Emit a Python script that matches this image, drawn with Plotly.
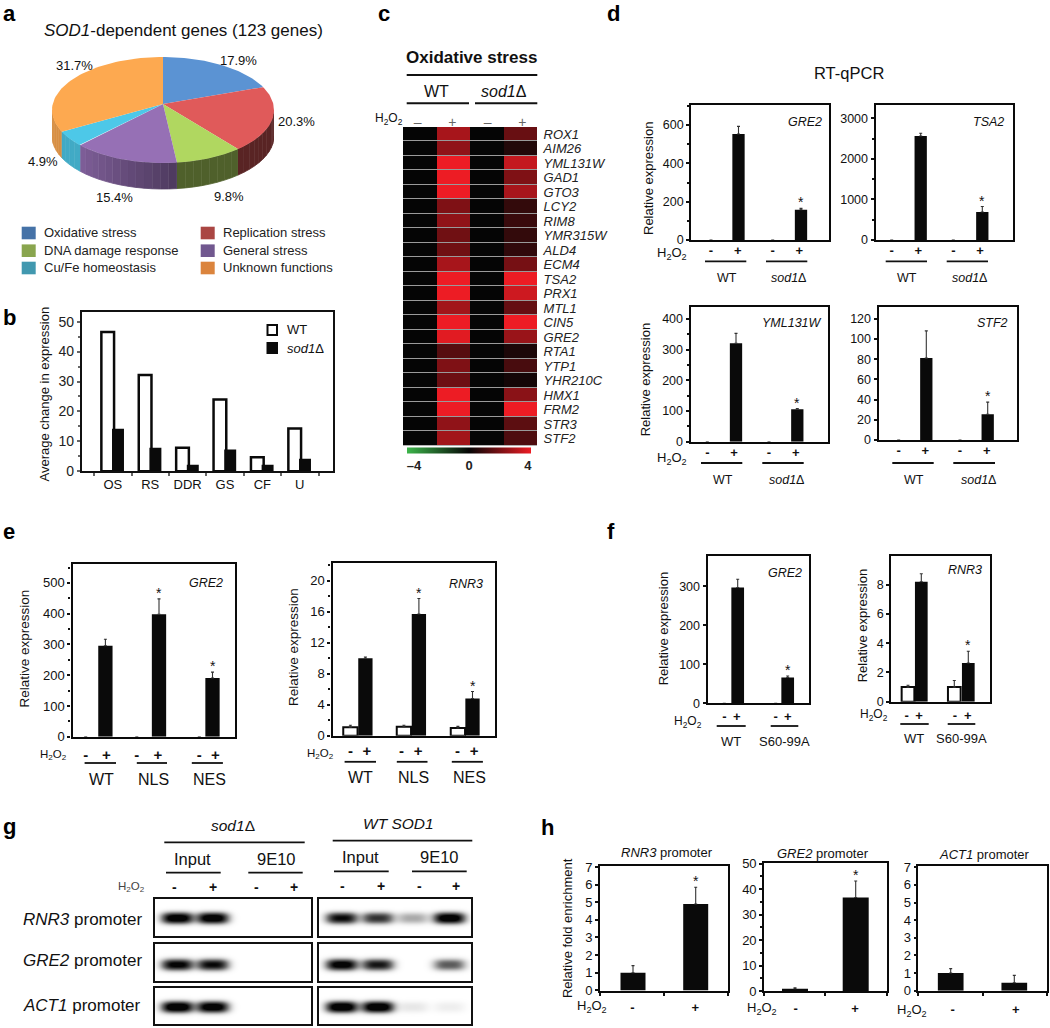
import numpy as np
import plotly.graph_objects as go

W, H = 1050, 1028
FONT = "Liberation Sans"

# ---------- data ----------
pie_names = ["Oxidative stress", "Replication stress", "DNA damage response",
             "General stress", "Cu/Fe homeostasis", "Unknown functions"]
pie_pct = [17.9, 20.3, 9.8, 15.4, 4.9, 31.7]

b_cats = ["OS", "RS", "DDR", "GS", "CF", "U"]
b_wt = [46.5, 32.2, 7.9, 24.0, 4.7, 14.3]
b_sod1 = [14.2, 7.9, 2.2, 7.3, 2.2, 4.2]

heat_genes = ["ROX1", "AIM26", "YML131W", "GAD1", "GTO3", "LCY2", "RIM8", "YMR315W", "ALD4", "ECM4", "TSA2",
              "PRX1", "MTL1", "CIN5", "GRE2", "RTA1", "YTP1", "YHR210C", "HMX1", "FRM2", "STR3", "STF2"]
heat_wt_minus = [0] * 22
heat_wt_plus = [2.8, 2.4, 4, 4, 4, 2.1, 2.4, 1.85, 1.85, 2.8, 4, 4, 2.7, 4, 3.8, 1.4, 2.1, 1.8, 4, 4, 2.4, 2.7]
heat_sod_minus = [0] * 22
heat_sod_plus = [1.7, 0.5, 3.3, 2.1, 2.8, 0.8, 0.9, 0.8, 0.75, 1.95, 4, 3.45, 1.65, 4, 2.55, 0.4, 1.15, 0.25, 2.3, 4, 1.5, 1.25]

d_gre2 = [0, 553, 0, 158]
d_gre2_err = [0, 40, 0, 7]
d_tsa2 = [0, 2565, 0, 690]
d_tsa2_err = [0, 65, 0, 135]
d_yml = [0, 321, 0, 106]
d_yml_err = [0, 32, 0, 2]
d_stf2 = [0, 81, 0, 25.5]
d_stf2_err = [0, 27, 0, 12]

e_gre2 = [0, 296, 0, 398, 0, 191]
e_gre2_err = [0, 21, 0, 50, 0, 19]
e_rnr3 = [1.1, 10.0, 1.15, 15.7, 1.0, 4.8]
e_rnr3_err = [0.25, 0.15, 0.2, 2.0, 0.2, 0.9]

f_gre2 = [0, 297, 0, 66]
f_gre2_err = [0, 21, 0, 4]
f_rnr3 = [1.0, 8.2, 1.0, 2.65]
f_rnr3_err = [0.12, 0.55, 0.45, 0.8]

h_rnr3 = [1.0, 4.9]
h_rnr3_err = [0.4, 0.95]
h_gre2 = [0.9, 36.7]
h_gre2_err = [0.4, 6.5]
h_act1 = [1.0, 0.45]
h_act1_err = [0.25, 0.42]

# band intensities per blot, lanes: Input -, Input +, 9E10 -, 9E10 +
g_rnr3_sod1 = [0.95, 0.95, 0, 0]
g_rnr3_wt = [0.8, 0.65, 0.25, 0.95]
g_gre2_sod1 = [0.85, 0.8, 0, 0]
g_gre2_wt = [0.9, 0.75, 0, 0.5]
g_act1_sod1 = [1.0, 0.95, 0, 0]
g_act1_wt = [1.0, 1.0, 0.07, 0.05]

# ---------- helpers ----------
fig = go.Figure()
layout = {}
ann, shapes = [], []
axis_n = 0


def fx(x): return x / W
def fy(y): return 1 - y / H


def new_axes(L, R, T, B, xa, ya):
    global axis_n
    axis_n += 1
    s = "" if axis_n == 1 else str(axis_n)
    xa = dict(xa, domain=[fx(L), fx(R)], anchor="y" + s)
    ya = dict(ya, domain=[fy(B), fy(T)], anchor="x" + s)
    layout["xaxis" + s] = xa
    layout["yaxis" + s] = ya
    return "x" + s, "y" + s


def txt(x, y, text, size=13, anchor="center", angle=0, color="#111", bold=False, italic=False):
    if italic:
        text = "<i>" + text + "</i>"
    if bold:
        text = "<b>" + text + "</b>"
    ann.append(dict(x=fx(x), y=fy(y), xref="paper", yref="paper", text=text, showarrow=False,
                    xanchor=anchor, yanchor="middle", textangle=angle, borderpad=0, borderwidth=0,
                    font=dict(family=FONT, size=size, color=color)))


def hline(x0, x1, y, w=1.8, color="#111"):
    shapes.append(dict(type="line", xref="paper", yref="paper", x0=fx(x0), x1=fx(x1), y0=fy(y), y1=fy(y),
                       line=dict(color=color, width=w)))


def rect(x0, x1, y0, y1, color, layer="above"):
    shapes.append(dict(type="rect", xref="paper", yref="paper", x0=fx(x0), x1=fx(x1), y0=fy(y0), y1=fy(y1),
                       line=dict(width=0), fillcolor=color, layer=layer))


H2O2 = "H<sub>2</sub>O<sub>2</sub>"
INK = "#0a0a0a"


def bar_panel(vals, errs, signs, open_bars, stars, frame, zero_px, tick_val, tick_px, bar_px, label_px, bw,
              dtick, minor=None, tick_size=12.5, label_size=13, label_gap=0, label_shift=-3, line_w=2.4, x_minor=None):
    L, R, T, B = frame
    ppu = (zero_px - tick_px) / tick_val
    ymin, ymax = (zero_px - B) / ppu, (zero_px - T) / ppu
    xs = [(c - L) / (R - L) for c in bar_px]
    ticks = [(c - L) / (R - L) for c in label_px]
    xa = dict(range=[0, 1], tickmode="array", tickvals=ticks, ticktext=["<b>%s</b>" % s for s in signs], tickangle=0,
              ticks="outside", ticklen=label_gap, tickcolor="rgba(0,0,0,0)", ticklabelstandoff=label_shift,
              showgrid=False, zeroline=False, showline=True, mirror=True, linecolor=INK, linewidth=line_w,
              tickfont=dict(family=FONT, size=label_size, color="#111"))
    if x_minor is not None:
        xa["minor"] = dict(tickmode="array", tickvals=[(c - L) / (R - L) for c in x_minor], ticks="outside",
                           ticklen=3, tickcolor="#111", tickwidth=1.5)
    ya = dict(range=[ymin, ymax], tick0=0, dtick=dtick, ticks="outside", ticklen=3, tickwidth=1.5, tickcolor="#111",
              showgrid=False, zeroline=False, showline=True, mirror=True, linecolor=INK, linewidth=line_w,
              tickfont=dict(family=FONT, size=tick_size, color="#111"))
    if minor:
        ya["minor"] = dict(dtick=minor, tick0=0, ticks="outside", ticklen=2, tickwidth=1.5, tickcolor="#111")
    xr, yr = new_axes(L, R, T, B, xa, ya)
    fig.add_trace(go.Bar(
        x=xs, y=vals, width=bw / (R - L), xaxis=xr, yaxis=yr, showlegend=False,
        marker=dict(color=["#fff" if o else INK for o in open_bars],
                    line=dict(color=INK, width=[2 if o else 0 for o in open_bars])),
        error_y=dict(type="data", symmetric=False, array=[e if e else None for e in errs], arrayminus=[0] * len(errs),
                     color="#333", thickness=1.1, width=1.5)))
    for i, st in enumerate(stars):
        if st:
            ann.append(dict(x=xs[i], y=vals[i] + errs[i], xref=xr, yref=yr, text="*", showarrow=False, xanchor="center",
                            yanchor="bottom", yshift=-4, font=dict(family=FONT, size=14, color="#111")))


def blot(lanes, frame, lane_px, band_y):
    L, R, T, B = frame
    gx = np.arange(L, R + 1, 1.0)
    gy = np.arange(T, B + 1, 1.0)
    X, Y = np.meshgrid(gx, gy)
    Z = np.zeros_like(X)
    for a, c in zip(lanes, lane_px):
        Z += a * np.exp(-(np.abs(X - c) / 15.5) ** 3.2) * np.exp(-(np.abs(Y - band_y) / 5.5) ** 2.4)
    Z = np.clip(Z * 1.25, 0, 1)
    ax = dict(showticklabels=False, ticks="", showgrid=False, zeroline=False, showline=True, mirror=True,
              linecolor="#111", linewidth=2)
    xr, yr = new_axes(L, R, T, B, dict(ax, range=[L, R]), dict(ax, range=[B, T]))
    fig.add_trace(go.Heatmap(x=gx, y=gy, z=Z, xaxis=xr, yaxis=yr, zmin=0, zmax=1, showscale=False, hoverinfo="skip",
                             colorscale=[[0, "#ffffff"], [0.5, "#777777"], [1, "#050505"]]))


# ---------- panel a: extruded pie, every wedge derived from pie_pct ----------
CX, RX, CY, RY, AP, DEPTH = 163, 111, 110, 53, 6, 26
tops = ["#5b93d3", "#e05a5a", "#b0d760", "#9670b5", "#4dc8e8", "#fda950"]
swatch = ["#4572a7", "#aa4643", "#89a54e", "#71588f", "#4198af", "#db843d"]
shade = [(0.4, 0.4), (0.4, 0.4), (0.45, 0.45), (0.52, 0.85), (0.85, 0.85), (0.85, 0.85)]
pL, pR, pT, pB = CX - RX, CX + RX, 40, 205
xa = dict(visible=False, range=[-1, 1])
ya = dict(visible=False, range=[(CY - pB) / RY, (CY - pT) / RY])
xp, yp = new_axes(pL, pR, pT, pB, xa, ya)
edges = np.concatenate([[0], np.cumsum(pie_pct)]) / sum(pie_pct) * 2 * np.pi


def hex2rgb(c): return [int(c[i:i + 2], 16) for i in (1, 3, 5)]


d = DEPTH / RY
for i in range(len(pie_pct)):
    a0, a1 = max(edges[i], np.pi / 2), min(edges[i + 1], 1.5 * np.pi)
    if a1 <= a0:
        continue
    n = max(2, int(np.degrees(a1 - a0) / 4))
    steps = np.linspace(a0, a1, n + 1)
    for j in range(n):
        t = (j + 0.5) / n
        s = shade[i][0] + (shade[i][1] - shade[i][0]) * t
        col = "rgb(%d,%d,%d)" % tuple(int(v * s) for v in hex2rgb(tops[i]))
        aa = np.linspace(steps[j], steps[j + 1], 4)
        xs = np.concatenate([np.sin(aa), np.sin(aa[::-1])])
        ys = np.concatenate([np.cos(aa), np.cos(aa[::-1]) - d])
        fig.add_trace(go.Scatter(x=xs, y=ys, xaxis=xp, yaxis=yp, mode="lines", fill="toself", line=dict(width=0.8, color=col),
                                 fillcolor=col, showlegend=False, hoverinfo="skip"))
for i in range(len(pie_pct)):
    aa = np.linspace(edges[i], edges[i + 1], 60)
    xs = np.concatenate([[0], np.sin(aa), [0]])
    ys = np.concatenate([[AP / RY], np.cos(aa), [AP / RY]])
    fig.add_trace(go.Scatter(x=xs, y=ys, xaxis=xp, yaxis=yp, mode="lines", fill="toself", line=dict(width=0),
                             fillcolor=tops[i], name=pie_names[i], showlegend=False))

txt(183.3, 30.7, "<i>SOD1</i>-dependent genes (123 genes)", 17)
pie_lab = [(238, 60), (296, 121), (229, 196), (114.7, 198), (42.7, 161), (74, 65.7)]
for (x, y), v in zip(pie_lab, pie_pct):
    txt(x, y, "%.1f%%" % v, 13)
leg_pos = [(21.7, 233), (200.7, 233), (21.7, 250.7), (200.7, 250.7), (21.7, 268), (200.7, 268)]
for (x, y), nm, c in zip(leg_pos, pie_names, swatch):
    rect(x, x + 14, y - 6.3, y + 6.3, c)
    txt(x + 22.3, y, nm, 13, anchor="left", color="#222")

# ---------- panel b ----------
bL, bR, bT, bB = 81.7, 332.7, 312.3, 471.3
ppu = (514 - 65) / 3 / 50
xa = dict(type="category", categoryorder="array", categoryarray=b_cats, range=[(bL - 112.8) / 37.4, (bR - 112.8) / 37.4],
          tickson="boundaries", ticks="outside", ticklen=3, tickcolor="#666", tickwidth=1.5, showgrid=False, tickangle=0,
          showline=True, mirror=True, linecolor="#111", linewidth=1.5, tickfont=dict(family=FONT, size=13, color="#111"))
ya = dict(range=[0, (bB - bT) / ppu], tick0=0, dtick=10, ticks="outside", ticklen=3, tickwidth=1.5, tickcolor="#666",
          minor=dict(dtick=5, tick0=0, ticks="outside", ticklen=2, tickcolor="#666"), showgrid=False, zeroline=False,
          showline=True, mirror=True, linecolor="#111", linewidth=1.5, tickfont=dict(family=FONT, size=14, color="#222"))
xb, yb = new_axes(bL, bR, bT, bB, xa, ya)
fig.add_trace(go.Bar(x=b_cats, y=b_wt, name="WT", xaxis=xb, yaxis=yb, width=0.34, offset=-0.306, showlegend=False,
                     marker=dict(color="#fff", line=dict(color=INK, width=2.5))))
fig.add_trace(go.Bar(x=b_cats, y=b_sod1, name="sod1Δ", xaxis=xb, yaxis=yb, width=0.32, offset=-0.021, showlegend=False,
                     marker=dict(color=INK, line=dict(width=0))))
txt(44, 394.5, "Average change in expression", 13, angle=-90)
rect(266.5, 278, 324, 336, INK)
rect(268.5, 276, 326, 334, "#fff")
rect(266.5, 278, 342, 354, INK)
txt(286.5, 329, "WT", 13, anchor="left")
txt(286.5, 348.5, "<i>sod1</i>Δ", 13, anchor="left")

# ---------- panel c ----------
hL, hR, hT, hB = 403, 537, 127, 445.7
hz = [list(r) for r in zip(heat_wt_minus, heat_wt_plus, heat_sod_minus, heat_sod_plus)]
rect(hL, hR, hT, hB, "#9a9a9a", layer="below")
xa = dict(range=[-0.5, 3.5], side="top", tickmode="array", tickvals=[-0.06, 0.97, 2.03, 3.06], ticktext=["–", "+", "–", "+"],
          ticks="", ticklabelstandoff=-4, tickangle=0, showgrid=False, zeroline=False,
          tickfont=dict(family=FONT, size=14, color="#666"))
ya = dict(autorange="reversed", type="category", side="right", tickmode="array", tickvals=heat_genes,
          ticktext=["<i>%s</i>" % g for g in heat_genes], ticks="outside", ticklen=3, tickcolor="rgba(0,0,0,0)",
          showgrid=False, zeroline=False, tickfont=dict(family=FONT, size=13, color="#222"))
xh, yh = new_axes(hL, hR, hT, hB, xa, ya)
fig.add_trace(go.Heatmap(
    x=[0, 1, 2, 3], y=heat_genes, z=hz, xaxis=xh, yaxis=yh, zmin=-4, zmax=4, ygap=1,
    colorscale=[[0, "#3cb54a"], [0.5, "#050505"], [1, "#ed1c24"]],
    colorbar=dict(orientation="h", x=fx(469), xanchor="center", y=fy(458.5), yanchor="middle", thickness=6,
                  thicknessmode="pixels", len=124, lenmode="pixels", tickmode="array", tickvals=[-3.55, 0, 3.8],
                  ticktext=["<b>–4</b>", "<b>0</b>", "<b>4</b>"], ticks="", outlinewidth=0, ypad=0, xpad=0,
                  tickfont=dict(family=FONT, size=13, color="#222"))))
txt(471, 57, "Oxidative stress", 17, bold=True)
hline(406.7, 537.3, 75, 2)
txt(436, 91.7, "WT", 16)
txt(504.3, 91.7, "<i>sod1</i>Δ", 16)
hline(406.7, 469, 103.3, 2)
hline(475, 537.3, 103.3, 2)
txt(403, 118.7, H2O2, 12, anchor="right")

# ---------- panel d ----------
txt(849.3, 73.3, "RT-qPCR", 16.5)
sg4 = ["-", "+", "-", "+"]
o4 = [False] * 4
s4 = [False, False, False, True]
bar_panel(d_gre2, d_gre2_err, sg4, o4, s4, (691.3, 829.3, 105, 240), 240, 600, 125, [711, 738.5, 772.7, 801], [711, 737.7, 772.7, 799.3], 12.3, 200, 100)
bar_panel(d_tsa2, d_tsa2_err, sg4, o4, s4, (875.7, 1013.3, 105, 240), 240, 3000, 118.3, [891.7, 920.7, 953.3, 982.3], [891.7, 918.3, 953.3, 980], 12.3, 1000, 500)
bar_panel(d_yml, d_yml_err, sg4, o4, s4, (690.7, 828.3, 307.3, 441.7), 441.7, 400, 319, [707.3, 736, 769, 797.3], [707.3, 734, 769, 795.7], 12.3, 100, 50)
bar_panel(d_stf2, d_stf2_err, sg4, o4, s4, (878.7, 1016.7, 306.7, 440), 440, 120, 318.7, [898.7, 926.3, 960, 987.7], [898.7, 925.3, 960, 986.7], 12.3, 20)
for x, y, g in [(821.7, 122, "GRE2"), (1004.3, 122, "TSA2"), (821.7, 323.3, "YML131W"), (1008.3, 322.7, "STF2")]:
    txt(x, y, g, 12.5, anchor="right", italic=True)
txt(648.3, 178.7, "Relative expression", 13, angle=-90)
txt(645, 380.3, "Relative expression", 13, angle=-90)
txt(671.5, 253, H2O2, 13)
txt(671.5, 459, H2O2, 13)
for a, b, c, e, y0, y1, wx, sx in [(705, 746.3, 766, 807.3, 261.3, 278.3, 726.7, 788.3),
                                   (885.7, 927, 946.7, 988, 261.3, 278.3, 907.3, 969.3),
                                   (701, 742.3, 762.3, 803.7, 463, 480, 723, 786.7),
                                   (892.3, 933.7, 953.3, 995, 463, 480, 914, 978)]:
    hline(a, b, y0)
    hline(c, e, y0)
    txt(wx, y1, "WT", 12.5)
    txt(sx, y1, "<i>sod1</i>Δ", 12.5)

# ---------- panel e ----------
sg6 = ["-", "+", "-", "+", "-", "+"]
bar_panel(e_gre2, e_gre2_err, sg6, [False] * 6, [False, False, False, True, False, True], (72.5, 234.6, 564.3, 736.8), 736.8, 500, 582.9,
          [85.7, 105.4, 136.8, 159, 199.3, 212.5], [85.7, 106.4, 136.8, 157.9, 199.3, 215.4], 14.3, 100, 50, label_size=15, label_gap=3, label_shift=0, tick_size=13)
bar_panel(e_rnr3, e_rnr3_err, sg6, [True, False] * 3, [False, False, False, True, False, True], (332.5, 494.6, 562.9, 735.7), 735.7, 20, 580.7,
          [350.4, 365.4, 403.9, 418.9, 457.9, 472.5], [350.4, 366.8, 401.4, 418.2, 457.5, 474], 14.3, 4, 2, label_size=15, label_gap=0, label_shift=0, tick_size=13)
txt(223, 583, "GRE2", 12.5, anchor="right", italic=True)
txt(483, 583.6, "RNR3", 12.5, anchor="right", italic=True)
txt(23.6, 649, "Relative expression", 13.5, angle=-90)
txt(293, 647, "Relative expression", 13.5, angle=-90)
txt(53, 755, H2O2, 11.5)
txt(320, 753.6, H2O2, 11.5)
for (a, b), lab, c in zip([(84.6, 116), (136.8, 167), (191.8, 222.9)], ["WT", "NLS", "NES"], [101, 153, 209.6]):
    hline(a, b, 763)
    txt(c, 779, lab, 16)
for (a, b), lab, c in zip([(344.6, 376), (396.8, 427.5), (451.8, 482.9)], ["WT", "NLS", "NES"], [360.7, 413, 469.6]):
    hline(a, b, 761.8)
    txt(c, 777, lab, 16)

# ---------- panel f ----------
bar_panel(f_gre2, f_gre2_err, sg4, o4, s4, (707.7, 808.7, 556, 703.3), 703.3, 300, 586.3,
          [724.3, 737.7, 775.7, 787.7], [724.3, 736.7, 775.7, 787.7], 12.7, 100, label_gap=0, label_shift=0)
bar_panel(f_rnr3, f_rnr3_err, sg4, [True, False, True, False], s4, (891.3, 990, 556, 701.7), 701.7, 8, 584.7,
          [908, 921.3, 954.3, 968.3], [906.7, 919, 955, 967.7], 12.7, 2, label_gap=0, label_shift=0)
txt(801.7, 572.7, "GRE2", 12.5, anchor="right", italic=True)
txt(982.3, 570, "RNR3", 12.5, anchor="right", italic=True)
txt(663.3, 629, "Relative expression", 13, angle=-90)
txt(862, 626.3, "Relative expression", 13, angle=-90)
txt(687.7, 721.7, H2O2, 12)
txt(874, 715.3, H2O2, 12)
hline(716.7, 745.7, 726)
hline(770.7, 798.3, 726)
txt(731, 741.3, "WT", 13)
txt(784.7, 741.3, "S60-99A", 13)
hline(900.3, 928.7, 724)
hline(947.7, 975.3, 724)
txt(914.3, 738.3, "WT", 13)
txt(961.7, 738.3, "S60-99A", 13)

# ---------- panel g ----------
laneL = [177.7, 213, 256, 294.5]
laneR = [341.7, 377.7, 412.7, 449.3]
rows = [(899.3, 936.3, 918), (944, 981, 964.3), (987.7, 1024.3, 1007.3)]
for (T, B, yc), left, right in zip(rows, [g_rnr3_sod1, g_gre2_sod1, g_act1_sod1], [g_rnr3_wt, g_gre2_wt, g_act1_wt]):
    blot(left, (154.7, 310.7, T, B), laneL, yc)
    blot(right, (319.3, 470.7, T, B), laneR, yc)
txt(23.3, 919, "<i>RNR3</i> promoter", 17, anchor="left")
txt(23.3, 960, "<i>GRE2</i> promoter", 17, anchor="left")
txt(23.3, 1005, "<i>ACT1</i> promoter", 17, anchor="left")
txt(232.7, 825, "<i>sod1</i>Δ", 15.5)
txt(398.3, 823, "<i>WT SOD1</i>", 15.5)
hline(164.3, 304.7, 842.3)
hline(332.7, 472.3, 840.7)
txt(192.7, 859, "Input", 16.5)
txt(276, 859, "9E10", 16.5)
txt(360.7, 857.3, "Input", 16.5)
txt(439.3, 857.3, "9E10", 16.5)
hline(166, 220.7, 872.7)
hline(248.3, 302.7, 872.7)
hline(334, 388.7, 871.3)
hline(412, 466.7, 871.3)
txt(131, 886.7, H2O2, 11.5, color="#444")
for x, s in zip([174.3, 213.3, 256, 294.3], sg4):
    txt(x, 887, s, 14, bold=True)
for x, s in zip([342.3, 381, 419.3, 456], sg4):
    txt(x, 886, s, 14, bold=True)

# ---------- panel h ----------
bar_panel(h_rnr3, h_rnr3_err, ["-", "+"], [False] * 2, [False, True], (600, 728.3, 866.3, 991), 990.3, 7, 867,
          [633, 695.7], [632.3, 695.3], 25, 1, tick_size=13, label_gap=4, label_shift=0, line_w=1.6, x_minor=[600, 664, 728.3])
bar_panel(h_gre2, h_gre2_err, ["-", "+"], [False] * 2, [False, True], (764, 886.7, 863.3, 991), 991, 50, 863.7,
          [795, 855.7], [795.7, 855], 26, 10, 5, tick_size=13, label_gap=5, label_shift=0, line_w=1.6, x_minor=[764, 825, 886.7])
bar_panel(h_act1, h_act1_err, ["-", "+"], [False] * 2, [False, False], (918.3, 1046.7, 866.3, 990.7), 990.7, 7, 867.3,
          [950.7, 1014.3], [952.7, 1015.7], 25.7, 1, tick_size=13, label_gap=6, label_shift=0, line_w=1.6, x_minor=[918.3, 982.5, 1046.7])
txt(667.3, 852.7, "<i>RNR3</i> promoter", 13)
txt(822.7, 853.3, "<i>GRE2</i> promoter", 13)
txt(984, 854.7, "<i>ACT1</i> promoter", 13)
txt(567.3, 927.8, "Relative fold enrichment", 13, angle=-90)
txt(592.3, 1006.7, H2O2, 13)
txt(761.7, 1008, H2O2, 13)
txt(912, 1010, H2O2, 13)

# ---------- panel letters ----------
for x, y, c in [(3, 14, "a"), (3, 317, "b"), (378, 14, "c"), (607, 14, "d"), (3, 531, "e"), (607, 531, "f"), (3, 826, "g"), (541, 827, "h")]:
    txt(x, y, c, 22, anchor="left", bold=True, color="#000")

fig.update_layout(width=W, height=H, margin=dict(l=0, r=0, t=0, b=0, autoexpand=False), paper_bgcolor="white", plot_bgcolor="rgba(0,0,0,0)",
                  barmode="overlay", showlegend=False, annotations=ann, shapes=shapes,
                  font=dict(family=FONT), **layout)
fig.write_html("out.html", config=dict(displayModeBar=False),
               post_script="document.body.style.margin='0';document.body.style.overflow='hidden';")
